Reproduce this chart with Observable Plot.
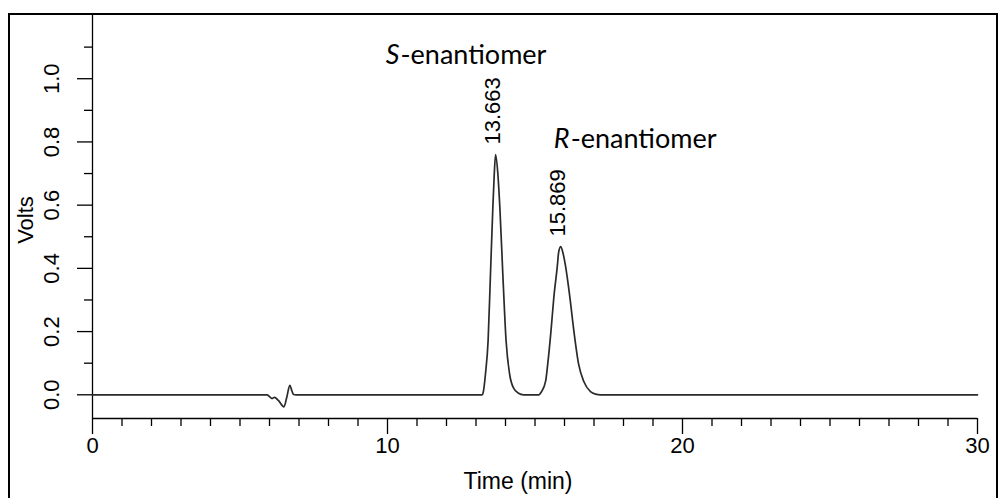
<!DOCTYPE html>
<html><head><meta charset="utf-8">
<script src="https://cdn.jsdelivr.net/npm/d3@7"></script>
<script src="https://cdn.jsdelivr.net/npm/@observablehq/plot@0.6"></script>
<style>
html,body{margin:0;padding:0;background:#fff;overflow:hidden;}
#wrap{position:relative;width:999px;height:498px;}
#border{position:absolute;left:8px;top:13px;width:990px;height:520px;border:2px solid #000;box-sizing:border-box;}
#chart{position:absolute;left:0;top:0;}
</style></head><body>
<div id="wrap"><div id="border"></div><div id="chart"></div></div>
<script>
// chromatogram trace (time in min, signal in volts)
const timeMin = [0, 5.92, 6.0, 6.09, 6.17, 6.3, 6.49, 6.58, 6.69, 6.76, 6.82, 6.9,
  13.21, 13.25, 13.32, 13.41, 13.49, 13.57, 13.62, 13.663, 13.74, 13.81, 13.91, 14.02, 14.14, 14.28, 14.44, 14.61,
  15.13, 15.22, 15.36, 15.43, 15.54, 15.64, 15.76, 15.80, 15.869, 15.94, 16.03, 16.18, 16.32, 16.48, 16.65, 16.88, 17.05, 17.22,
  30];
const volts = [0, 0, -0.006, -0.012, -0.008, -0.018, -0.038, -0.01, 0.03, 0.012, 0.001, 0,
  0, 0.01, 0.065, 0.17, 0.38, 0.59, 0.70, 0.760, 0.70, 0.59, 0.38, 0.17, 0.065, 0.02, 0.005, 0,
  0, 0.01, 0.043, 0.096, 0.20, 0.31, 0.41, 0.45, 0.469, 0.452, 0.41, 0.31, 0.20, 0.096, 0.043, 0.01, 0.002, 0,
  0];

const peakTimes = [13.663, 15.869];
const peakHeights = [0.760, 0.469];
const peakLabels = ["13.663", "15.869"];
const enantiomerPrefix = ["S", "R"];
const enantiomerSuffix = "-enantiomer";

const xMajorTicks = [0, 10, 20, 30];
const xMinorTicks = [1,2,3,4,5,6,7,8,9,11,12,13,14,15,16,17,18,19,21,22,23,24,25,26,27,28,29];
const yMajorTicks = [0, 0.2, 0.4, 0.6, 0.8, 1.0];
const yMinorTicks = [0.1, 0.3, 0.5, 0.7, 0.9, 1.1];

const trace = timeMin.map((t, i) => ({t, v: volts[i]}));
const peaks = peakTimes.map((t, i) => ({t, v: peakHeights[i], label: peakLabels[i], prefix: enantiomerPrefix[i]}));

const tickFont = "'Liberation Sans', Arial, sans-serif";
const annFont = "Lato, 'Open Sans', sans-serif";
const blank = () => "";

const chart = Plot.plot({
  width: 999,
  height: 498,
  marginLeft: 92,
  marginRight: 22,
  marginTop: 15,
  marginBottom: 80,
  style: {fontFamily: tickFont, background: "transparent", color: "#000", overflow: "visible"},
  x: {domain: [0, 30], axis: null},
  y: {domain: [-0.075, 1.2], axis: null},
  marks: [
    Plot.ruleX([0], {stroke: "#000", strokeWidth: 1.3}),
    Plot.ruleY([-0.075], {stroke: "#000", strokeWidth: 1.3}),
    Plot.axisY(yMajorTicks, {anchor: "left", tickSize: 15, tickFormat: blank, label: null, stroke: "#000", strokeWidth: 1.3}),
    Plot.axisY(yMinorTicks, {anchor: "left", tickSize: 8, tickFormat: blank, label: null, stroke: "#000", strokeWidth: 1.3}),
    Plot.axisX(xMinorTicks, {anchor: "bottom", tickSize: 8, tickFormat: blank, label: null, stroke: "#000", strokeWidth: 1.3}),
    Plot.axisX(xMajorTicks, {anchor: "bottom", tickSize: 16, tickPadding: 3, label: null, fontSize: 22, stroke: "#000", strokeWidth: 1.3}),
    Plot.text(yMajorTicks, {y: d => d, text: d => d.toFixed(1), frameAnchor: "left", textAnchor: "middle", lineAnchor: "middle", dx: -41, rotate: -90, fontSize: 22, fill: "#000"}),
    Plot.text(["Time (min)"], {frameAnchor: "bottom", textAnchor: "middle", dx: -17, dy: 70, lineAnchor: "bottom", fontSize: 23, fill: "#000"}),
    Plot.text(["Volts"], {frameAnchor: "left", textAnchor: "middle", lineAnchor: "middle", dx: -67, dy: 3, rotate: -90, fontSize: 22, fill: "#000"}),
    Plot.line(trace, {x: "t", y: "v", curve: "monotone-x", stroke: "#2a2a2a", strokeWidth: 1.7}),
    Plot.text(peaks, {x: "t", y: "v", text: "label", rotate: -90, textAnchor: "start", lineAnchor: "middle", dx: -3, dy: -10, fontSize: 22, fill: "#000"}),
    Plot.text(peaks.slice(0, 1), {x: "t", y: "v", text: "prefix", textAnchor: "end", lineAnchor: "bottom", dx: -96, dy: -91, fontSize: 27, fontStyle: "italic", fontFamily: annFont, fill: "#000"}),
    Plot.text(peaks.slice(0, 1), {x: "t", y: "v", text: () => enantiomerSuffix, textAnchor: "start", lineAnchor: "bottom", dx: -95, dy: -91, fontSize: 27, fontFamily: annFont, fill: "#000"}),
    Plot.text(peaks.slice(1, 2), {x: "t", y: "v", text: "prefix", textAnchor: "end", lineAnchor: "bottom", dx: 9, dy: -99, fontSize: 27, fontStyle: "italic", fontFamily: annFont, fill: "#000"}),
    Plot.text(peaks.slice(1, 2), {x: "t", y: "v", text: () => enantiomerSuffix, textAnchor: "start", lineAnchor: "bottom", dx: 10, dy: -99, fontSize: 27, fontFamily: annFont, fill: "#000"})
  ]
});
document.getElementById("chart").appendChild(chart);
</script></body></html>
